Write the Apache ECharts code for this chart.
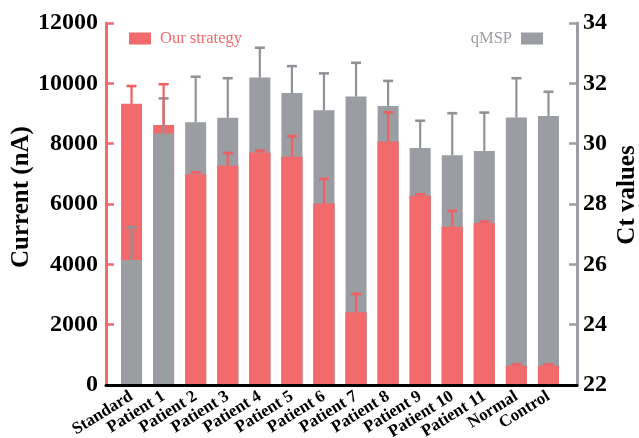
<!DOCTYPE html>
<html>
<head>
<meta charset="utf-8">
<script src="https://cdn.jsdelivr.net/npm/echarts@6/dist/echarts.min.js"></script>
<style>html,body{margin:0;padding:0;background:#fff;}#chart{width:639px;height:438px;}</style>
</head>
<body>
<div id="chart"></div>
<script>
var categories = ['Standard','Patient 1','Patient 2','Patient 3','Patient 4','Patient 5','Patient 6','Patient 7','Patient 8','Patient 9','Patient 10','Patient 11','Normal','Control'];
var currentValues = [9320, 8620, 6990, 7270, 7710, 7570, 6020, 2410, 8070, 6270, 5250, 5370, 640, 640];
var currentErrors = [590, 1350, 60, 420, 60, 680, 810, 610, 970, 50, 520, 50, 40, 40];
var ctValues = [26.14, 30.34, 30.71, 30.86, 32.19, 31.68, 31.11, 31.56, 31.25, 29.86, 29.62, 29.76, 30.87, 30.92];
var ctErrors = [1.09, 1.16, 1.51, 1.31, 0.99, 0.89, 1.22, 1.12, 0.83, 0.90, 1.39, 1.27, 1.30, 0.80];
var leftTicks = [0, 12000, 2000];
var rightTicks = [22, 34, 2];

var RED = '#F26A6C';
var GRAY = '#9A9DA2';
var FONT = "'Liberation Serif','Times New Roman',serif";

var redFront = currentValues.map(function (v, i) {
  var rf = (v - leftTicks[0]) / (leftTicks[1] - leftTicks[0]);
  var gf = (ctValues[i] - rightTicks[0]) / (rightTicks[1] - rightTicks[0]);
  return rf < gf ? v : '-';
});

function errRender(color) {
  return function (params, api) {
    var x = api.value(0), v = api.value(1), e = api.value(2);
    var p0 = api.coord([x, v]);
    var p1 = api.coord([x, v + e]);
    var hw = 5;
    return {
      type: 'group',
      children: [
        { type: 'line', shape: { x1: p0[0], y1: p0[1], x2: p1[0], y2: p1[1] }, style: { stroke: color, lineWidth: 2.2 } },
        { type: 'line', shape: { x1: p1[0] - hw, y1: p1[1], x2: p1[0] + hw, y2: p1[1] }, style: { stroke: color, lineWidth: 2.6 } }
      ]
    };
  };
}

var chart = echarts.init(document.getElementById('chart'), null, { renderer: 'canvas' });
chart.setOption({
  animation: false,
  backgroundColor: '#fff',
  textStyle: { fontFamily: FONT },
  legend: [
    {
      data: ['Our strategy'], left: 124, top: 25, itemWidth: 22, itemHeight: 12,
      icon: 'rect', selectedMode: false,
      textStyle: { color: RED, fontSize: 16.5, fontFamily: FONT, padding: [0, 0, 0, 4] }
    },
    {
      data: ['qMSP'], right: 91, top: 25, itemWidth: 22, itemHeight: 12, align: 'right',
      icon: 'rect', selectedMode: false,
      textStyle: { color: GRAY, fontSize: 16.5, fontFamily: FONT, padding: [0, 4, 0, 0] }
    }
  ],
  grid: [
    { left: 106, right: 62, top: 23, bottom: 53, containLabel: false, outerBoundsMode: 'none' },
    { left: 115.5, right: 74.5, top: 23, bottom: 53, containLabel: false, outerBoundsMode: 'none' }
  ],
  xAxis: [
    {
      type: 'value', gridIndex: 0, min: 0, max: 1, z: 10,
      axisLine: { show: true, onZero: false, lineStyle: { color: '#000', width: 3 } },
      axisTick: { show: false }, axisLabel: { show: false }, splitLine: { show: false }
    },
    {
      type: 'category', gridIndex: 1, data: categories,
      axisLine: { show: false }, axisTick: { show: false }, splitLine: { show: false },
      axisLabel: { interval: 0, rotate: 32, margin: 10, color: '#000', fontSize: 17, fontWeight: 'bold', fontFamily: FONT }
    }
  ],
  yAxis: [
    {
      type: 'value', gridIndex: 0, position: 'left', min: leftTicks[0], max: leftTicks[1], interval: leftTicks[2],
      name: 'Current (nA)', nameLocation: 'middle', nameGap: 72, nameRotate: 90, nameMoveOverlap: false,
      nameTextStyle: { color: '#000', fontSize: 25, fontWeight: 'bold', fontFamily: FONT, padding: [0, 0, 0, 14] },
      axisLine: { show: true, onZero: false, lineStyle: { color: RED, width: 3 } },
      axisTick: { show: true, inside: true, length: 8, lineStyle: { color: RED, width: 2.5 } },
      axisLabel: { color: '#000', fontSize: 24, fontWeight: 'bold', fontFamily: FONT, margin: 8, formatter: function (v) { return String(v); } },
      splitLine: { show: false }
    },
    {
      type: 'value', gridIndex: 0, position: 'right', min: rightTicks[0], max: rightTicks[1], interval: rightTicks[2],
      name: 'Ct values', nameLocation: 'middle', nameGap: 38, nameRotate: 90, nameMoveOverlap: false,
      nameTextStyle: { color: '#000', fontSize: 25, fontWeight: 'bold', fontFamily: FONT, padding: [0, 0, 0, 18] },
      axisLine: { show: true, onZero: false, lineStyle: { color: GRAY, width: 3 } },
      axisTick: { show: true, inside: true, length: 8, lineStyle: { color: GRAY, width: 2.5 } },
      axisLabel: { color: '#000', fontSize: 24, fontWeight: 'bold', fontFamily: FONT, margin: 6 },
      splitLine: { show: false }
    },
    { type: 'value', gridIndex: 1, min: leftTicks[0], max: leftTicks[1], show: false },
    { type: 'value', gridIndex: 1, min: rightTicks[0], max: rightTicks[1], show: false }
  ],
  series: [
    {
      name: 'Our strategy', type: 'bar', xAxisIndex: 1, yAxisIndex: 2, data: currentValues,
      barWidth: 21, barGap: '-100%', z: 2, itemStyle: { color: RED }
    },
    {
      name: 'qMSP', type: 'bar', xAxisIndex: 1, yAxisIndex: 3, data: ctValues,
      barWidth: 21, barGap: '-100%', z: 3, itemStyle: { color: GRAY }
    },
    {
      name: 'Our strategy', type: 'bar', xAxisIndex: 1, yAxisIndex: 2, data: redFront,
      barWidth: 21, barGap: '-100%', z: 4, itemStyle: { color: RED }
    },
    {
      name: 'qMSP err', type: 'custom', xAxisIndex: 1, yAxisIndex: 3, z: 5,
      renderItem: errRender('#8F9297'),
      encode: { x: 0, y: 1 },
      data: ctValues.map(function (v, i) { return [i, v, ctErrors[i]]; })
    },
    {
      name: 'Our strategy err', type: 'custom', xAxisIndex: 1, yAxisIndex: 2, z: 6,
      renderItem: errRender('#EF5F63'),
      encode: { x: 0, y: 1 },
      data: currentValues.map(function (v, i) { return [i, v, currentErrors[i]]; })
    }
  ]
});
</script>
</body>
</html>
